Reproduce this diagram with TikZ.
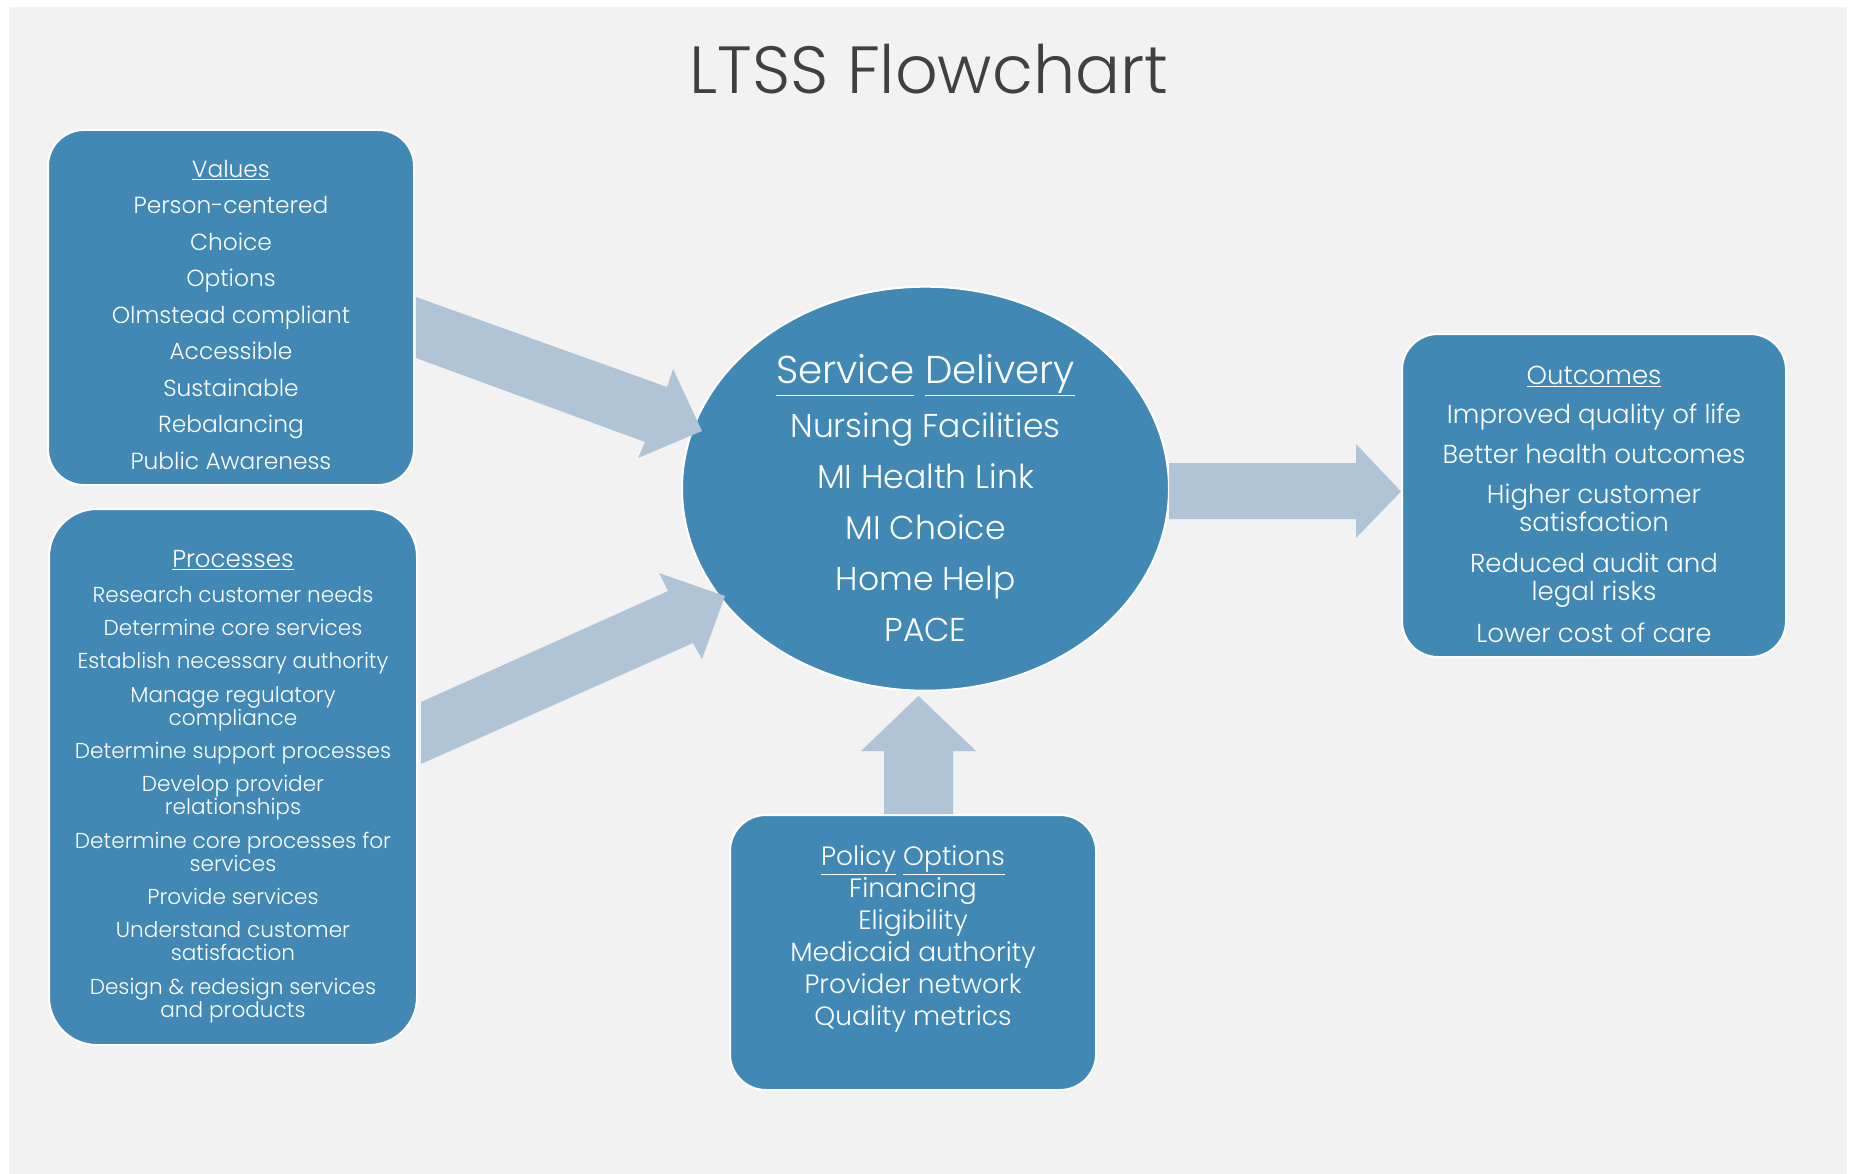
\documentclass[tikz,border=0pt]{standalone}
\usepackage{fontspec}
\setmainfont{Poppins}[UprightFont=* Light]
\usetikzlibrary{shapes.geometric}
\definecolor{boxblue}{HTML}{4189B4}
\definecolor{arrowc}{HTML}{B0C4D6}
\definecolor{bggray}{HTML}{F2F2F2}
\definecolor{titlec}{HTML}{404040}
\newcommand\dul[1]{\underline{#1\vphantom{y}}}
\begin{document}
\begin{tikzpicture}[x=1pt,y=-1pt,
  box/.style={draw=white, line width=2pt, fill=boxblue, rounded corners=#1, inner sep=0pt},
  box/.default=36pt,
  txt/.style={text=white, align=center, inner sep=0pt, anchor=north},
  blk/.style={fill=arrowc}]
\useasboundingbox (0,0) rectangle (1851,1174);
\fill[white] (0,0) rectangle (1851,1174);
\fill[bggray] (9,7) rectangle (1847,1174);

% title
\node[text=titlec, anchor=base, inner sep=0pt, font=\fontsize{66.7}{80}\selectfont] (title) at (929,94) {LTSS Flowchart};

% boxes
\node[box, minimum width=366, minimum height=355] (values) at (231,307.5) {};
\node[box=48pt, minimum width=368, minimum height=536] (processes) at (233,777) {};
\node[ellipse, draw=white, line width=2pt, fill=boxblue, minimum width=487, minimum height=404, inner sep=0pt] (sd) at (925.5,488.7) {};
\node[box, minimum width=384, minimum height=323] (outcomes) at (1594,495.5) {};
\node[box, minimum width=366, minimum height=275] (policy) at (913,952.5) {};

% texts
\node[txt, font=\fontsize{23.3}{36.5}\selectfont] (valuesT) at (231,160) {\underline{Values}\\Person-centered\\Choice\\Options\\Olmstead compliant\\Accessible\\Sustainable\\Rebalancing\\Public Awareness};

\node[txt, font=\fontsize{21.6}{23.2}\selectfont] (processesT) at (233,550) {{\fontsize{24.5}{23.2}\selectfont\underline{Processes}}\\[12pt]
Research customer needs\\[10pt]
Determine core services\\[10pt]
Establish necessary authority\\[10pt]
Manage regulatory\\compliance\\[10pt]
Determine support processes\\[10pt]
Develop provider\\relationships\\[10pt]
Determine core processes for\\services\\[10pt]
Provide services\\[10pt]
Understand customer\\satisfaction\\[10pt]
Design \& redesign services\\and products};

\node[txt, font=\fontsize{33}{51}\selectfont] (sdT) at (925.5,354) {{\fontsize{38.8}{51}\selectfont\dul{Service}~\dul{Delivery}}\\[3pt]
Nursing Facilities\\MI Health Link\\MI Choice\\Home Help\\PACE};

\node[txt, font=\fontsize{26}{28}\selectfont] (outcomesT) at (1594,366) {{\fontsize{26}{28}\selectfont\underline{Outcomes}}\\[11pt]
Improved quality of life\\[12pt]
Better health outcomes\\[12pt]
Higher customer\\satisfaction\\[13pt]
Reduced audit and\\legal risks\\[14pt]
Lower cost of care};

\node[txt, font=\fontsize{26.5}{32}\selectfont] (policyT) at (913,845.5) {\dul{Policy}~\dul{Options}\\Financing\\Eligibility\\Medicaid authority\\Provider network\\Quality metrics};

% block arrows
\coordinate (a1s1) at (416,297); \coordinate (a1s2) at (416,358);
\coordinate (a1j1) at (667,387); \coordinate (a1c1) at (673,369);
\coordinate (a1t) at (702,431);
\coordinate (a1c2) at (638,458); \coordinate (a1j2) at (645,442);
\fill[blk] (a1s1) -- (a1j1) -- (a1c1) -- (a1t) -- (a1c2) -- (a1j2) -- (a1s2) -- cycle;

\coordinate (a2s1) at (421,702); \coordinate (a2s2) at (421,764);
\coordinate (a2j1) at (668,591); \coordinate (a2c1) at (659,573);
\coordinate (a2t) at (725,596);
\coordinate (a2c2) at (702,659); \coordinate (a2j2) at (693,643);
\fill[blk] (a2s1) -- (a2j1) -- (a2c1) -- (a2t) -- (a2c2) -- (a2j2) -- (a2s2) -- cycle;

\coordinate (a3s1) at (1169,463); \coordinate (a3s2) at (1169,519);
\coordinate (a3j1) at (1356,463); \coordinate (a3c1) at (1356,444);
\coordinate (a3t) at (1401,491.5);
\coordinate (a3c2) at (1356,538); \coordinate (a3j2) at (1356,519);
\fill[blk] (a3s1) -- (a3j1) -- (a3c1) -- (a3t) -- (a3c2) -- (a3j2) -- (a3s2) -- cycle;

\coordinate (a4s1) at (884,814); \coordinate (a4s2) at (953,814);
\coordinate (a4j1) at (884,751); \coordinate (a4c1) at (861,751);
\coordinate (a4t) at (918.5,696);
\coordinate (a4c2) at (976,751); \coordinate (a4j2) at (953,751);
\fill[blk] (a4s1) -- (a4j1) -- (a4c1) -- (a4t) -- (a4c2) -- (a4j2) -- (a4s2) -- cycle;
\end{tikzpicture}
\end{document}
